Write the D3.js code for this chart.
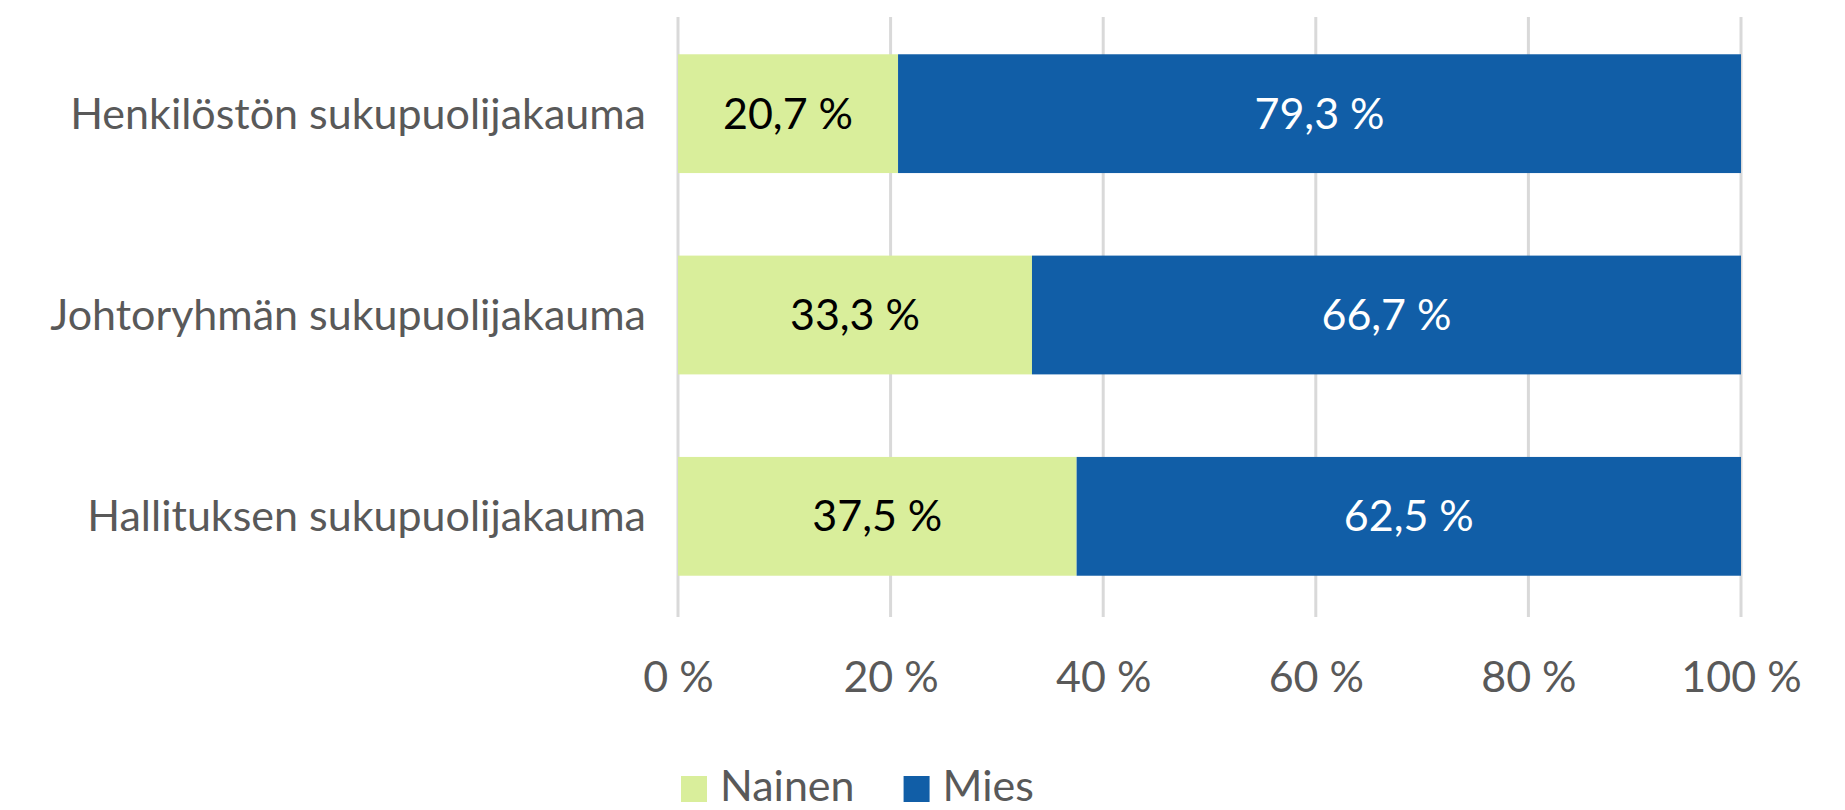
<!DOCTYPE html>
<html>
<head>
<meta charset="utf-8">
<script src="https://cdn.jsdelivr.net/npm/d3@7"></script>
<style>
  html, body { margin: 0; padding: 0; background: #ffffff; }
  svg { display: block; }
  text { font-family: Lato, "Open Sans", sans-serif; }
</style>
</head>
<body>
<svg id="chart" width="1845" height="810"></svg>
<script>
// Gender distribution (%) by group
const categories = [
  "Henkilöstön sukupuolijakauma",
  "Johtoryhmän sukupuolijakauma",
  "Hallituksen sukupuolijakauma"
];
const seriesNames = ["Nainen", "Mies"];
const nainen = [20.7, 33.3, 37.5];
const mies = [79.3, 66.7, 62.5];
const tickValues = [0, 20, 40, 60, 80, 100];
const tickLabels = ["0 %", "20 %", "40 %", "60 %", "80 %", "100 %"];

const colors = { Nainen: "#d9ee9b", Mies: "#115ea7" };
const labelColors = { Nainen: "#000000", Mies: "#ffffff" };

const svg = d3.select("#chart");
const fontSize = 43;

const plot = { left: 678, right: 1741, top: 17, bottom: 617 };

const x = d3.scaleLinear().domain([0, 100]).range([plot.left, plot.right]);
const y = d3.scaleBand().domain(categories).range([13, 617]).paddingInner(0.41).paddingOuter(0.205);

// stacked rows
const rows = categories.map((c, i) => ({ category: c, Nainen: nainen[i], Mies: mies[i] }));
const stacked = d3.stack().keys(seriesNames)(rows);

// vertical gridlines
svg.append("g")
  .selectAll("line")
  .data(tickValues)
  .join("line")
  .attr("x1", d => x(d)).attr("x2", d => x(d))
  .attr("y1", plot.top).attr("y2", plot.bottom)
  .attr("stroke", "#d9d9d9")
  .attr("stroke-width", 3);

// bars
const layers = svg.append("g")
  .selectAll("g")
  .data(stacked)
  .join("g")
  .attr("fill", d => colors[d.key]);

layers.selectAll("rect")
  .data(d => d.map(v => ({ key: d.key, v })))
  .join("rect")
  .attr("x", d => x(d.v[0]))
  .attr("width", d => x(d.v[1]) - x(d.v[0]))
  .attr("y", d => y(d.v.data.category))
  .attr("height", y.bandwidth());

// value labels
const fmt = v => v.toFixed(1).replace(".", ",") + " %";
layers.selectAll("text")
  .data(d => d.map(v => ({ key: d.key, v })))
  .join("text")
  .attr("x", d => (x(d.v[0]) + x(d.v[1])) / 2)
  .attr("y", d => y(d.v.data.category) + y.bandwidth() / 2)
  .attr("dy", "0.35em")
  .attr("text-anchor", "middle")
  .attr("font-size", fontSize)
  .attr("fill", d => labelColors[d.key])
  .text(d => fmt(d.v[1] - d.v[0]));

// category axis labels
svg.append("g")
  .selectAll("text")
  .data(categories)
  .join("text")
  .attr("x", plot.left - 32)
  .attr("y", d => y(d) + y.bandwidth() / 2)
  .attr("dy", "0.35em")
  .attr("text-anchor", "end")
  .attr("font-size", fontSize)
  .attr("fill", "#595959")
  .text(d => d);

// value axis
const xAxis = d3.axisBottom(x)
  .tickValues(tickValues)
  .tickFormat((d, i) => tickLabels[i])
  .tickSize(0)
  .tickPadding(0);
const axisG = svg.append("g")
  .attr("transform", `translate(0, 692)`)
  .call(xAxis);
axisG.select(".domain").remove();
axisG.selectAll("text")
  .attr("font-family", "Lato, 'Open Sans', sans-serif")
  .attr("font-size", fontSize)
  .attr("fill", "#595959")
  .attr("dy", 0);

// legend
const legend = svg.append("g");
let lx = 681;
seriesNames.forEach(name => {
  legend.append("rect")
    .attr("x", lx).attr("y", 776)
    .attr("width", 26).attr("height", 26)
    .attr("fill", colors[name]);
  const t = legend.append("text")
    .attr("x", lx + 39).attr("y", 801)
    .attr("font-size", fontSize)
    .attr("fill", "#595959")
    .text(name);
  lx = lx + 39 + t.node().getComputedTextLength() + 49;
});
</script>
</body>
</html>
